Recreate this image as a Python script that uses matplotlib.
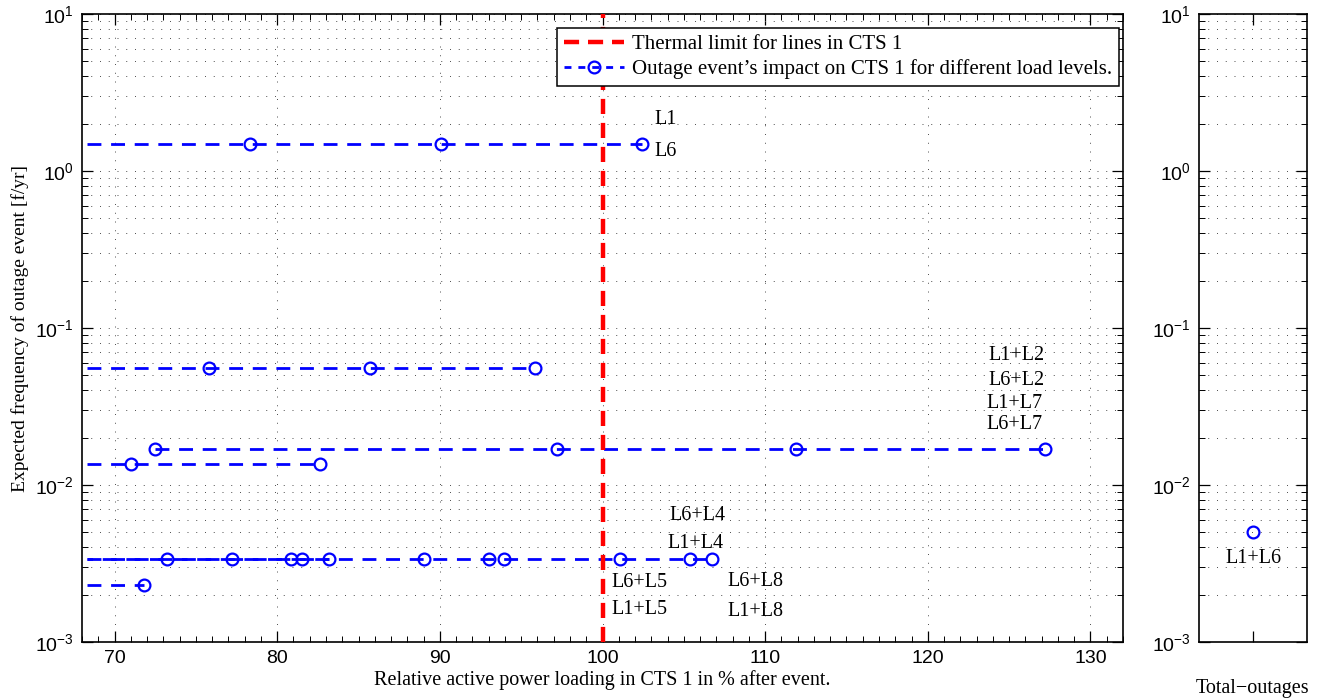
import matplotlib
matplotlib.use('Agg')
import matplotlib.pyplot as plt
from matplotlib.ticker import LogLocator, MultipleLocator, NullFormatter, FixedLocator
from matplotlib.lines import Line2D

plt.rcParams['mathtext.fontset'] = 'custom'
plt.rcParams['mathtext.rm'] = 'Liberation Sans'
plt.rcParams['mathtext.it'] = 'Liberation Sans:italic'
plt.rcParams['font.family'] = ['Liberation Sans', 'DejaVu Sans']

SERIF = ['Liberation Serif', 'DejaVu Serif']

# ---------------- data ----------------
line_start = 68.3          # left end of the dashed event lines
thermal_limit = 100.0

freq_L1_L6 = 1.48
load_L1_L6 = [78.3, 90.1, 102.4]

freq_B = 0.056
load_B = [75.8, 85.7, 95.85]

freq_L2_L7 = 0.017
load_L2_L7 = [72.5, 97.2, 111.9, 127.2]

freq_D = 0.0136
load_D = [71.0, 82.65]

freq_L4_L5_L8 = 0.0034
load_E1 = [73.2, 77.2, 80.85, 83.2]
load_E2 = [81.55, 89.0, 93.0, 93.95, 101.05, 105.35, 106.75]

freq_F = 0.0023
load_F = [71.8]

series_freq = [freq_L1_L6, freq_B, freq_L2_L7, freq_D, freq_L4_L5_L8, freq_L4_L5_L8, freq_F]
series_load = [load_L1_L6, load_B, load_L2_L7, load_D, load_E1, load_E2, load_F]
series_from_left = [True, True, False, True, True, True, True]

# annotation labels
label_text = ['L1', 'L6', 'L1+L2', 'L6+L2', 'L1+L7', 'L6+L7',
              'L6+L4', 'L1+L4', 'L6+L5', 'L1+L5', 'L6+L8', 'L1+L8']
label_x = [103.2, 103.2, 123.7, 123.7, 123.6, 123.6,
           104.1, 104.0, 100.55, 100.55, 107.7, 107.7]
label_y = [2.13, 1.34, 0.0668, 0.0464, 0.0329, 0.0242,
           0.00644, 0.00426, 0.00239, 0.00160, 0.00242, 0.00156]

total_freq = 0.005
total_label = 'L1+L6'
total_label_y = 0.00338

# ---------------- figure ----------------
fig = plt.figure(figsize=(13.35, 6.98), dpi=100)
ax = fig.add_axes([82/1335, 56/698, 1041/1335, 628/698])
ax2 = fig.add_axes([1199/1335, 56/698, 108/1335, 628/698])

blue = (0, 0, 1)
red = (1, 0, 0)
MS = 8.5
MEW = 1.6
TXT = 14.5

for k, (f, loads, from_left) in enumerate(zip(series_freq, series_load, series_from_left)):
    xs = ([line_start] + loads) if from_left else loads
    ys = [f] * len(xs)
    me = list(range(1, len(xs))) if from_left else list(range(len(xs)))
    ax.plot(xs, ys, color=blue, lw=2.0, ls=(3 if k == 5 else 0, (5, 3.5)),
            marker='o', markersize=MS, mfc='none', mec=blue, mew=MEW,
            markevery=me, zorder=3)

ax.axvline(thermal_limit, color=red, lw=3.2, ls=(0, (3.4, 2.0)), zorder=4)

for t, x, y in zip(label_text, label_x, label_y):
    ax.text(x, y, t, fontsize=TXT, family=SERIF, ha='left', va='center')

ax.set_yscale('log')
ax.set_ylim(1e-3, 1e1)
ax.set_xlim(68, 132)
ax.xaxis.set_major_locator(MultipleLocator(10))
ax.xaxis.set_minor_locator(MultipleLocator(1))
ax.yaxis.set_major_locator(LogLocator(base=10, numticks=10))
ax.yaxis.set_minor_locator(LogLocator(base=10, subs=range(2, 10), numticks=20))
ax.yaxis.set_minor_formatter(NullFormatter())

grid_kw = dict(color='0.3', lw=0.7, ls=(0, (1, 8)))
ax.grid(True, which='major', axis='both', **grid_kw)
ax.grid(True, which='minor', axis='y', **grid_kw)
ax.set_axisbelow(True)

for a in (ax, ax2):
    a.tick_params(which='both', direction='in', top=True, right=True, labelsize=14)
    a.tick_params(which='major', length=8, width=0.9, pad=6)
    a.tick_params(which='minor', length=4, width=0.7)
    for s in a.spines.values():
        s.set_linewidth(1.2)

ax.set_xlabel('Relative active power loading in CTS 1 in % after event.',
              fontsize=TXT, family=SERIF, labelpad=2)
ax.set_ylabel('Expected frequency of outage event [f/yr]', fontsize=14, family=SERIF, labelpad=4)

leg_handles = [Line2D([], [], color=red, lw=3.2, ls=(0, (3.4, 2.0))),
               Line2D([], [], color=blue, lw=2.0, ls=(0, (2.5, 2.5)), marker='o',
                      markersize=MS, mfc='none', mec=blue, mew=MEW)]
leg = ax.legend(leg_handles,
                ['Thermal limit for lines in CTS 1',
                 'Outage event\u2019s impact on CTS 1 for different load levels.'],
                loc='upper right', bbox_to_anchor=(0.996, 0.977),
                prop={'family': SERIF, 'size': 15}, fancybox=False,
                framealpha=1, edgecolor='black', borderpad=0.3,
                handlelength=2.9, handletextpad=0.4, labelspacing=0.25, borderaxespad=0)
leg.get_frame().set_linewidth(1.1)

# right panel
ax2.plot([1], [total_freq], ls='none', marker='o', markersize=MS, mfc='none', mec=blue, mew=MEW)
ax2.text(1, total_label_y, total_label, fontsize=TXT, family=SERIF, ha='center', va='center')
ax2.set_yscale('log')
ax2.set_ylim(1e-3, 1e1)
ax2.set_xlim(0, 2)
ax2.xaxis.set_major_locator(FixedLocator([1]))
ax2.xaxis.set_minor_locator(FixedLocator([]))
ax2.set_xticklabels([''])
ax2.yaxis.set_major_locator(LogLocator(base=10, numticks=10))
ax2.yaxis.set_minor_locator(LogLocator(base=10, subs=range(2, 10), numticks=20))
ax2.yaxis.set_minor_formatter(NullFormatter())
ax2.grid(True, which='both', axis='y', **grid_kw)
ax2.set_axisbelow(True)
ax2.set_xlabel('Total\u2212outages', fontsize=TXT, family=SERIF, labelpad=21)

fig.savefig('out.png', dpi=100)
